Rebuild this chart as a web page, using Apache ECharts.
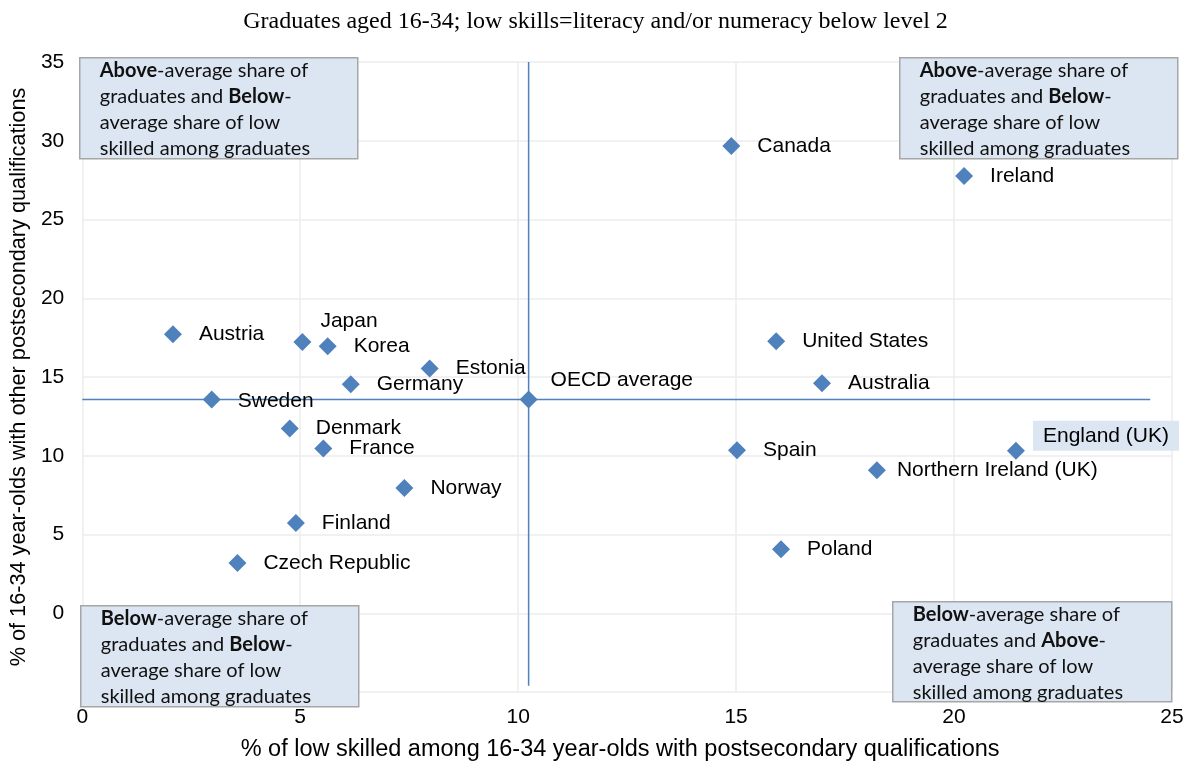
<!DOCTYPE html>
<html>
<head>
<meta charset="utf-8">
<script src="https://cdn.jsdelivr.net/npm/echarts@6/dist/echarts.min.js"></script>
<style>
  html, body { margin: 0; padding: 0; background: #fff; }
  #chart { width: 1191px; height: 770px; }
</style>
</head>
<body>
<div id="chart"></div>
<script>
// data
var countries = ["Canada", "Ireland", "Austria", "Japan", "Korea", "Estonia", "Germany", "Sweden",
  "OECD average", "Denmark", "France", "Norway", "Finland", "Czech Republic",
  "United States", "Australia", "Spain", "England (UK)", "Northern Ireland (UK)", "Poland"];
var lowSkilled = [14.89, 20.23, 2.08, 5.05, 5.63, 7.97, 6.16, 2.97,
  10.24, 4.76, 5.53, 7.39, 4.90, 3.56,
  15.92, 16.97, 15.02, 21.42, 18.23, 16.03];
var otherPostsec = [29.66, 27.76, 17.72, 17.23, 16.96, 15.54, 14.54, 13.57,
  13.57, 11.73, 10.46, 7.95, 5.73, 3.19,
  17.27, 14.61, 10.35, 10.31, 9.08, 4.06];
var xTicks = [0, 5, 10, 15, 20, 25];
var yTicks = [-5, 0, 5, 10, 15, 20, 25, 30, 35];

var avgIdx = countries.indexOf("OECD average");
var avgX = lowSkilled[avgIdx];
var avgY = otherPostsec[avgIdx];

var blue = "#4f81bd";
var labelFont = "'Liberation Sans', Arial, sans-serif";
var boxFont = "Lato, 'Open Sans', sans-serif";

// label tweaks for a few points
var labelFix = {
  "Japan": { offset: [-8, -21] },
  "OECD average": { offset: [-4, -19] },
  "Northern Ireland (UK)": { offset: [-6, 0] },
  "Sweden": { offset: [0, 2] },
  "England (UK)": {
    backgroundColor: "#dce6f2",
    padding: [5, 10, 4, 10],
    distance: 8,
    offset: [0, -15]
  }
};

var points = countries.map(function (c, i) {
  var item = { name: c, value: [lowSkilled[i], otherPostsec[i]] };
  if (labelFix[c]) item.label = labelFix[c];
  return item;
});

function quadBox(x, y, w, h, first, second) {
  return {
    type: "group",
    left: x,
    top: y,
    z: 100,
    children: [
      {
        type: "rect",
        z: 100,
        shape: { x: 0, y: 0, width: w, height: h },
        style: { fill: "#dce6f2", stroke: "#a6a6a6", lineWidth: 1.5 }
      },
      {
        type: "text",
        z: 101,
        x: 20,
        y: 0,
        style: {
          text: "{b|" + first + "}-average share of\ngraduates and {b|" + second + "}-\naverage share of low\nskilled among graduates",
          fill: "#111",
          fontSize: 20,
          fontFamily: boxFont,
          lineHeight: 26,
          rich: {
            b: { fontWeight: "bold", fontSize: 20, fontFamily: boxFont, lineHeight: 26, fill: "#111" }
          }
        }
      }
    ]
  };
}

var chart = echarts.init(document.getElementById("chart"));
var option = {
  backgroundColor: "#fff",
  animation: false,
  title: {
    text: "Graduates aged 16-34; low skills=literacy and/or numeracy below level 2",
    left: "center",
    top: 5,
    textStyle: {
      fontFamily: "'Liberation Serif', 'Times New Roman', serif",
      fontWeight: "normal",
      fontSize: 24,
      color: "#000"
    }
  },
  grid: { left: 82, right: 19, top: 62, bottom: 78 },
  xAxis: {
    type: "value",
    min: xTicks[0],
    max: xTicks[xTicks.length - 1],
    interval: 5,
    name: "% of low skilled among 16-34 year-olds with postsecondary qualifications",
    nameLocation: "middle",
    nameGap: 46,
    nameTextStyle: { fontFamily: labelFont, fontSize: 23.5, color: "#000", padding: [0, 14, 0, 0] },
    axisLine: { show: false },
    axisTick: { show: false },
    axisLabel: { fontFamily: labelFont, fontSize: 21, color: "#000", margin: 15 },
    splitLine: { show: true, lineStyle: { color: "#ededed", width: 1.5 } }
  },
  yAxis: {
    type: "value",
    min: yTicks[0],
    max: yTicks[yTicks.length - 1],
    interval: 5,
    name: "% of 16-34 year-olds with other postsecondary qualifications",
    nameLocation: "middle",
    nameGap: 46,
    nameTextStyle: { fontFamily: labelFont, fontSize: 21.7, color: "#000" },
    axisLine: { show: false },
    axisTick: { show: false },
    axisLabel: {
      fontFamily: labelFont, fontSize: 21, color: "#000", margin: 18,
      formatter: function (v) { return v < 0 ? "" : v; }
    },
    splitLine: { show: true, lineStyle: { color: "#ededed", width: 1.5 } }
  },
  series: [
    {
      type: "line",
      silent: true,
      symbol: "none",
      data: [[avgX, yTicks[yTicks.length - 1]], [avgX, -4.6]],
      lineStyle: { color: blue, width: 1.5 },
      z: 2
    },
    {
      type: "line",
      silent: true,
      symbol: "none",
      data: [[xTicks[0], avgY], [24.5, avgY]],
      lineStyle: { color: blue, width: 1.5 },
      z: 2
    },
    {
      type: "scatter",
      symbol: "diamond",
      symbolSize: 18,
      itemStyle: { color: blue, opacity: 1 },
      data: points,
      z: 3,
      label: {
        show: true,
        position: "right",
        distance: 17,
        formatter: "{b}",
        color: "#000",
        fontFamily: labelFont,
        fontSize: 21
      }
    }
  ],
  graphic: [
    quadBox(79, 57, 278, 101, "Above", "Below"),
    quadBox(899, 57, 278, 101, "Above", "Below"),
    quadBox(80, 605, 278, 101, "Below", "Below"),
    quadBox(892, 601, 279, 100, "Below", "Above")
  ]
};
chart.setOption(option);
window.onresize = function () {
  chart.resize();
};
</script>
</body>
</html>
